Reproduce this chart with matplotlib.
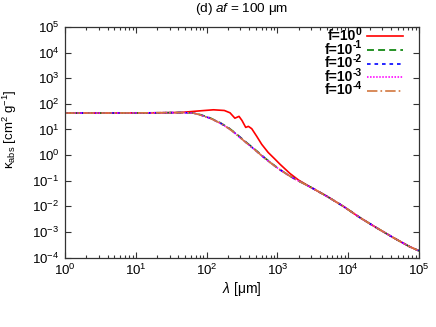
import matplotlib
matplotlib.use("Agg")
import matplotlib.pyplot as plt
from matplotlib.lines import Line2D
from matplotlib.ticker import LogLocator, LogFormatterMathtext, NullFormatter

plt.rcParams.update({
    "font.family": ["Liberation Sans", "DejaVu Sans"],
    "mathtext.fontset": "custom",
    "mathtext.rm": "Liberation Sans",
    "mathtext.it": "Liberation Sans:italic",
    "mathtext.bf": "Liberation Sans:bold",
    "lines.scale_dashes": False,
})

# wavelength [um] and kappa_abs [cm^2 g^-1]
lam_f0 = [1, 3.16, 10, 20, 42, 81, 125, 178, 214, 251, 287, 316, 357, 389, 434,
          511, 600, 741, 925, 1089, 1507, 1995, 2884, 5012, 8511, 14791, 25119,
          43652, 74131, 100000]
kap_f0 = [43.7, 43.7, 44.2, 44.7, 45.7, 53.3, 58.5, 55.0, 44.7, 27.5, 32.4, 22.4,
          12.0, 13.2, 10.7, 5.37, 2.63, 1.26, 0.69, 0.437, 0.19, 0.105, 0.0575,
          0.0245, 0.0100, 0.00355, 0.00145, 5.9e-4, 2.63e-4, 1.82e-4]

lam_small = [1, 3.16, 10, 20, 42, 65, 81, 112, 155, 204, 251, 347, 479, 661, 871,
             1122, 1514, 1862, 2884, 5012, 8511, 14791, 25119, 43652, 74131, 100000]
kap_f1 = [43.7, 43.7, 44.2, 44.7, 45.7, 43.9, 38.0, 28.2, 18.4, 11.6, 7.5, 3.5,
          1.68, 0.78, 0.425, 0.255, 0.149, 0.108, 0.0577, 0.0245, 0.0100, 0.00355,
          0.00145, 5.9e-4, 2.63e-4, 1.82e-4]
kap_f2 = [43.7, 43.7, 44.2, 44.7, 45.7, 43.7, 37.2, 27.5, 17.8, 11.2, 7.24, 3.39,
          1.62, 0.76, 0.417, 0.251, 0.148, 0.107, 0.0575, 0.0245, 0.0100, 0.00355,
          0.00145, 5.9e-4, 2.63e-4, 1.82e-4]
kap_f3 = [43.7, 43.7, 44.2, 44.7, 45.7, 43.6, 37.0, 27.3, 17.7, 11.1, 7.18, 3.36,
          1.61, 0.755, 0.415, 0.25, 0.148, 0.107, 0.0575, 0.0245, 0.0100, 0.00355,
          0.00145, 5.9e-4, 2.63e-4, 1.82e-4]
kap_f4 = [43.7, 43.7, 44.2, 44.7, 45.7, 43.6, 37.0, 27.3, 17.7, 11.1, 7.18, 3.36,
          1.61, 0.755, 0.415, 0.25, 0.148, 0.107, 0.0575, 0.0245, 0.0100, 0.00355,
          0.00145, 5.9e-4, 2.63e-4, 1.82e-4]

label_base = ["f=10", "f=10", "f=10", "f=10", "f=10"]
label_exp = ["0", "-1", "-2", "-3", "-4"]
colors = ["#ff0000", "#007f00", "#0000ff", "#ff00ff", "#d2773e"]
dash_styles = [None, (5, 3), (2.6, 2.8), (1.1, 1.1), (7.5, 2.2, 1.2, 2.2)]

W, H = 436, 327
fig = plt.figure(figsize=(W / 100, H / 100), dpi=100)
ax = fig.add_axes([65 / W, 1 - 257.5 / H, 354 / W, 230.5 / H])

lw = 1.2
series = [(lam_f0, kap_f0), (lam_small, kap_f1), (lam_small, kap_f2),
          (lam_small, kap_f3), (lam_small, kap_f4)]
for (lx, ky), c, d in zip(series, colors, dash_styles):
    kw = {} if d is None else {"dashes": d}
    ax.plot(lx, ky, color=c, lw=lw, **kw)

ax.set_xscale("log")
ax.set_yscale("log")
ax.set_xlim(1, 1e5)
ax.set_ylim(1e-4, 1e5)

ax.xaxis.set_major_locator(LogLocator(base=10, numticks=10))
ax.xaxis.set_minor_locator(LogLocator(base=10, subs=range(2, 10), numticks=20))
ax.xaxis.set_minor_formatter(NullFormatter())
ax.yaxis.set_major_locator(LogLocator(base=10, numticks=12))
ax.yaxis.set_minor_locator(LogLocator(base=10, subs=[], numticks=12))
ax.xaxis.set_major_formatter(LogFormatterMathtext())
ax.yaxis.set_major_formatter(LogFormatterMathtext())
ax.tick_params(which="both", direction="in", top=True, right=True, labelsize=9.5,
               color="#333333", width=0.8)
ax.tick_params(which="major", length=4, pad=4)
ax.tick_params(which="minor", length=2)
for s in ax.spines.values():
    s.set_color("#333333")
    s.set_linewidth(0.9)

ax.set_xlabel(r"$\lambda$ [μm]", fontsize=10, labelpad=1)
ax.set_ylabel(r"$\mathrm{\kappa_{abs}}$ [cm$^{2}$ g$^{-1}$]", fontsize=9.5)
ax.yaxis.set_label_coords((19 - 65) / 354, (257.5 - 129) / 230.5)
ax.set_title(r"(d) $af$ = 100 μm", fontsize=9.7, pad=11)

# legend drawn by hand (gnuplot style: text right-aligned, sample on right)
for i, (b, e, c, d) in enumerate(zip(label_base, label_exp, colors, dash_styles)):
    yl = 36.3 + 13.6 * i
    kw = {} if d is None else {"dashes": d}
    fig.add_artist(Line2D([367 / W, 403 / W], [1 - yl / H, 1 - yl / H],
                          color=c, lw=lw, transform=fig.transFigure, **kw))
    xs = 356 if e == "0" else 353
    fig.text(xs / W, 1 - (yl + 3.8) / H, b, ha="right", va="baseline",
             fontsize=10, fontweight="bold")
    fig.text(xs / W, 1 - (yl - 1.5) / H, e, ha="left", va="baseline",
             fontsize=7.5, fontweight="bold")

fig.savefig("out.png", dpi=100)
